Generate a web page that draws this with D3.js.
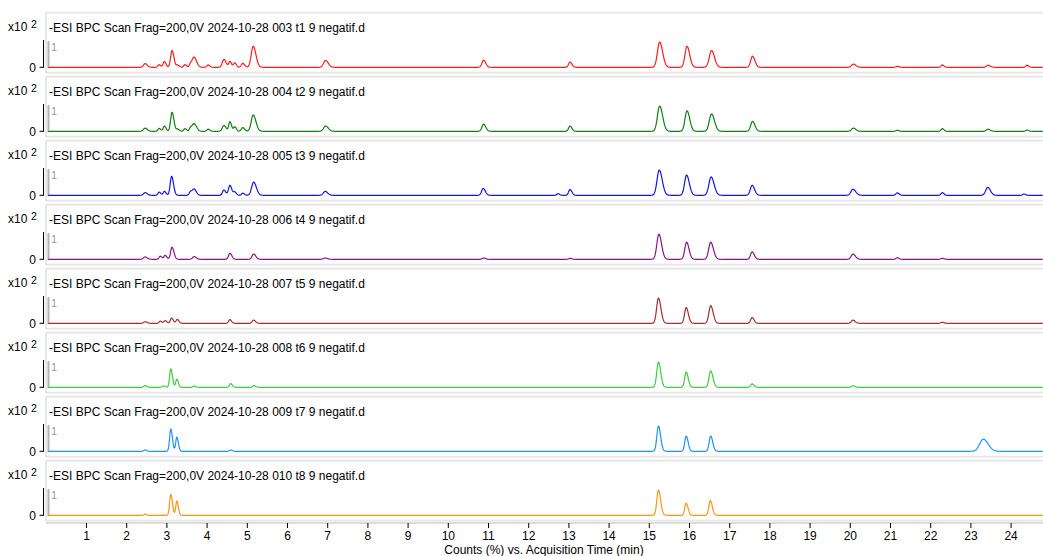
<!DOCTYPE html>
<html>
<head>
<meta charset="utf-8">
<script src="https://cdn.jsdelivr.net/npm/d3@7/dist/d3.min.js"></script>
<style>
  html, body { margin: 0; padding: 0; background: #fff; }
  svg { display: block; font-family: "Liberation Sans", Arial, sans-serif; }
</style>
</head>
<body>
<svg id="chart" width="1043" height="556"></svg>
<script>
// Sample names, one stacked trace per injection
const sampleNames = [
  "-ESI BPC Scan Frag=200,0V 2024-10-28 003 t1 9 negatif.d",
  "-ESI BPC Scan Frag=200,0V 2024-10-28 004 t2 9 negatif.d",
  "-ESI BPC Scan Frag=200,0V 2024-10-28 005 t3 9 negatif.d",
  "-ESI BPC Scan Frag=200,0V 2024-10-28 006 t4 9 negatif.d",
  "-ESI BPC Scan Frag=200,0V 2024-10-28 007 t5 9 negatif.d",
  "-ESI BPC Scan Frag=200,0V 2024-10-28 008 t6 9 negatif.d",
  "-ESI BPC Scan Frag=200,0V 2024-10-28 009 t7 9 negatif.d",
  "-ESI BPC Scan Frag=200,0V 2024-10-28 010 t8 9 negatif.d"
];

// Peak tables: [retention time (min), relative height (x10^2 %), width sigma (min)]
const peaksT1 = [
  [2.47, 0.14, 0.04], [2.82, 0.10, 0.03], [2.95, 0.22, 0.03], [3.14, 0.64, 0.035],
  [3.28, 0.08, 0.03], [3.46, 0.10, 0.03], [3.60, 0.13, 0.03], [3.69, 0.38, 0.045],
  [4.04, 0.09, 0.03], [4.43, 0.30, 0.04], [4.58, 0.22, 0.03], [4.70, 0.17, 0.03],
  [4.90, 0.15, 0.035], [5.16, 0.80, 0.05], [6.96, 0.26, 0.05], [10.89, 0.27, 0.04],
  [13.04, 0.20, 0.035], [15.27, 0.96, 0.055], [15.95, 0.80, 0.05], [16.56, 0.64, 0.055],
  [17.58, 0.42, 0.045], [20.09, 0.12, 0.045], [21.18, 0.04, 0.03], [22.30, 0.09, 0.03],
  [23.44, 0.08, 0.04], [24.41, 0.08, 0.03]
];
const peaksT2 = [
  [2.47, 0.12, 0.04], [2.82, 0.11, 0.03], [2.95, 0.20, 0.03], [3.14, 0.72, 0.035],
  [3.28, 0.08, 0.03], [3.46, 0.10, 0.03], [3.60, 0.13, 0.03], [3.69, 0.28, 0.045],
  [4.04, 0.08, 0.03], [4.43, 0.22, 0.04], [4.58, 0.36, 0.03], [4.70, 0.17, 0.03],
  [4.90, 0.14, 0.035], [5.16, 0.62, 0.05], [6.96, 0.20, 0.05], [10.89, 0.27, 0.04],
  [13.04, 0.20, 0.035], [15.27, 0.96, 0.055], [15.95, 0.78, 0.05], [16.56, 0.66, 0.055],
  [17.58, 0.38, 0.045], [20.09, 0.12, 0.045], [21.18, 0.04, 0.03], [22.30, 0.10, 0.03],
  [23.44, 0.08, 0.04], [24.41, 0.05, 0.03]
];
const peaksT3 = [
  [2.47, 0.10, 0.04], [2.82, 0.12, 0.03], [2.95, 0.15, 0.03], [3.13, 0.72, 0.035],
  [3.60, 0.14, 0.03], [3.69, 0.23, 0.04], [4.43, 0.20, 0.035], [4.58, 0.38, 0.035],
  [4.70, 0.12, 0.03], [4.90, 0.08, 0.03], [5.17, 0.50, 0.05], [6.95, 0.15, 0.045],
  [10.88, 0.26, 0.04], [12.74, 0.06, 0.03], [13.04, 0.22, 0.035], [15.26, 0.96, 0.055],
  [15.94, 0.77, 0.05], [16.55, 0.70, 0.055], [17.57, 0.38, 0.045], [20.08, 0.23, 0.05],
  [21.18, 0.09, 0.035], [22.30, 0.10, 0.03], [23.43, 0.30, 0.05], [24.33, 0.05, 0.03]
];
const peaksT4 = [
  [2.47, 0.09, 0.04], [2.85, 0.12, 0.03], [2.97, 0.15, 0.03], [3.14, 0.46, 0.035],
  [3.69, 0.10, 0.04], [4.58, 0.23, 0.035], [5.17, 0.20, 0.04], [6.95, 0.05, 0.04],
  [10.89, 0.05, 0.035], [13.04, 0.04, 0.03], [15.25, 0.96, 0.05], [15.94, 0.65, 0.045],
  [16.54, 0.65, 0.05], [17.57, 0.28, 0.04], [20.08, 0.20, 0.045], [21.18, 0.06, 0.03],
  [22.30, 0.04, 0.03]
];
const peaksT5 = [
  [2.47, 0.06, 0.035], [2.85, 0.08, 0.03], [2.97, 0.10, 0.03], [3.13, 0.20, 0.03],
  [3.27, 0.15, 0.03], [4.58, 0.14, 0.03], [5.17, 0.12, 0.035], [15.24, 0.96, 0.045],
  [15.93, 0.60, 0.04], [16.54, 0.67, 0.045], [17.57, 0.22, 0.035], [20.08, 0.12, 0.04],
  [22.30, 0.04, 0.03]
];
const peaksT6 = [
  [2.47, 0.07, 0.03], [2.93, 0.05, 0.03], [3.11, 0.70, 0.03], [3.26, 0.31, 0.028],
  [3.69, 0.05, 0.03], [4.60, 0.14, 0.03], [5.18, 0.07, 0.03], [15.24, 0.96, 0.042],
  [15.93, 0.58, 0.038], [16.54, 0.62, 0.042], [17.57, 0.13, 0.035], [20.08, 0.06, 0.035]
];
const peaksT7 = [
  [2.47, 0.05, 0.03], [3.11, 0.85, 0.03], [3.26, 0.54, 0.028], [4.60, 0.05, 0.03],
  [15.24, 0.96, 0.04], [15.93, 0.58, 0.036], [16.54, 0.58, 0.038], [23.32, 0.46, 0.09]
];
const peaksT8 = [
  [2.47, 0.05, 0.025], [3.11, 0.80, 0.03], [3.26, 0.55, 0.027],
  [15.24, 0.96, 0.04], [15.93, 0.46, 0.035], [16.53, 0.56, 0.037]
];

const peakTables = [peaksT1, peaksT2, peaksT3, peaksT4, peaksT5, peaksT6, peaksT7, peaksT8];
const traceColors = ["#ff1a1a", "#108010", "#1414e6", "#8a118a", "#a82a2a", "#3ccc3c", "#1e90ff", "#ff9410"];

// Time axis (min) and its tick labels
const timeDomain = [0, 24.8];
const timeTicks = [1, 2, 3, 4, 5, 6, 7, 8, 9, 10, 11, 12, 13, 14, 15, 16, 17, 18, 19, 20, 21, 22, 23, 24];
const yTicks = [0, 1];
const xTitle = "Counts (%) vs. Acquisition Time (min)";

const svg = d3.select("#chart");
const W = 1043;

const x = d3.scaleLinear().domain(timeDomain).range([45.8, 45.8 + 40.2 * 24.8]);

const panelTop0 = 12.7, panelStep = 64, panelH = 60;

// Time grid on which each chromatogram is rendered
const grid = d3.range(0.06, 24.81, 0.01);

function trace(peaks) {
  return grid.map(t => {
    let v = 0;
    for (const [c, h, s] of peaks) {
      const sig = t < c ? s : s * 1.35; // slight peak tailing
      const z = (t - c) / sig;
      if (Math.abs(z) < 8) v += h * Math.exp(-0.5 * z * z);
    }
    return [t, v];
  });
}

svg.append("defs").append("clipPath").attr("id", "plotclip")
  .append("rect").attr("x", 48).attr("y", 0).attr("width", W - 48).attr("height", 556);

sampleNames.forEach((name, i) => {
  const top = panelTop0 + panelStep * i;
  const y = d3.scaleLinear().domain([0, 1]).range([top + 54.6, top + 28.3]);
  const g = svg.append("g");

  // panel frame
  g.append("rect")
    .attr("x", 46).attr("y", top)
    .attr("width", W + 10).attr("height", panelH)
    .attr("fill", "none").attr("stroke", "#e8e8e8").attr("stroke-width", 2);

  // scale multiplier
  const mult = g.append("text").attr("x", 8).attr("y", top + 18.5)
    .attr("font-size", 12).attr("fill", "#000");
  mult.append("tspan").text("x10");
  g.append("text").attr("x", 31).attr("y", top + 15)
    .attr("font-size", 10.5).attr("fill", "#000").text("2");

  // title
  g.append("text").attr("x", 49).attr("y", top + 19)
    .attr("font-size", 12).attr("fill", "#000").text(name);

  // outer y axis
  g.append("line")
    .attr("x1", 43.5).attr("x2", 43.5)
    .attr("y1", y(1) - 1).attr("y2", y(0) + 0.5)
    .attr("stroke", "#000").attr("stroke-width", 1);
  g.append("line")
    .attr("x1", 39.5).attr("x2", 43.5)
    .attr("y1", y(0)).attr("y2", y(0))
    .attr("stroke", "#000").attr("stroke-width", 1);
  g.append("text").attr("x", 36).attr("y", y(yTicks[0]))
    .attr("dy", "0.35em").attr("text-anchor", "end")
    .attr("font-size", 12).attr("fill", "#000").text(yTicks[0]);

  // inner gray axis with the full-scale label
  g.append("line")
    .attr("x1", 48.5).attr("x2", 48.5)
    .attr("y1", y(1)).attr("y2", y(0) + 1)
    .attr("stroke", "#b4b4b4").attr("stroke-width", 2);
  g.append("text").attr("x", 51).attr("y", y(yTicks[1]) + 6)
    .attr("dy", "0.35em")
    .attr("font-size", 11).attr("fill", "#9a9a9a").text(yTicks[1]);

  // chromatogram
  const line = d3.line().x(d => x(d[0])).y(d => y(d[1]));
  g.append("path")
    .datum(trace(peakTables[i]))
    .attr("clip-path", "url(#plotclip)")
    .attr("fill", "none")
    .attr("stroke", traceColors[i])
    .attr("stroke-width", 1.2)
    .attr("stroke-linejoin", "round")
    .attr("d", line);
});

// bottom time axis
const axisY = 523;
svg.append("line").attr("x1", 46).attr("x2", W).attr("y1", axisY).attr("y2", axisY)
  .attr("stroke", "#dcdcdc").attr("stroke-width", 2);
const xAxis = d3.axisBottom(x).tickValues(timeTicks).tickSize(5).tickPadding(3).tickFormat(d3.format("d"));
const ax = svg.append("g").attr("transform", `translate(0,${axisY})`).call(xAxis);
ax.select(".domain").remove();
ax.selectAll(".tick line").attr("stroke", "#000");
ax.selectAll(".tick text").attr("font-size", 12).attr("fill", "#000")
  .attr("font-family", "Liberation Sans, Arial, sans-serif");

svg.append("text").attr("x", 544).attr("y", 554)
  .attr("text-anchor", "middle").attr("font-size", 12).attr("fill", "#000")
  .text(xTitle);
</script>
</body>
</html>
